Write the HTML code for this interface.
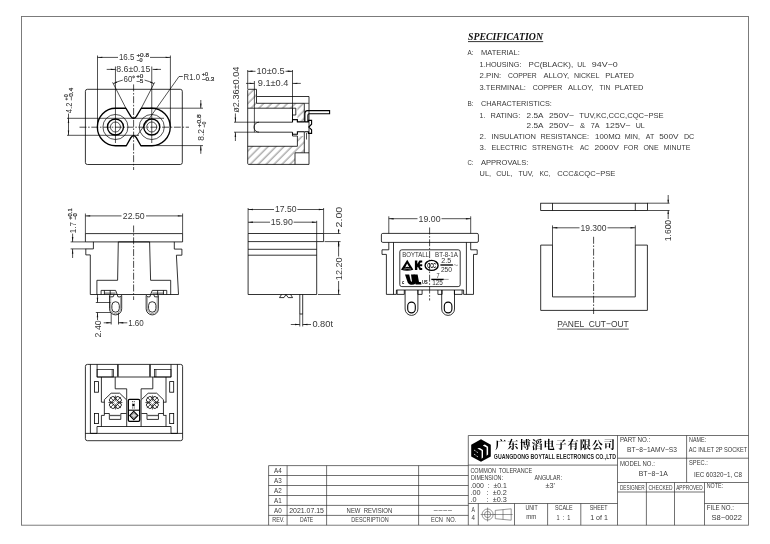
<!DOCTYPE html>
<html><head><meta charset="utf-8"><title>BT-8-1A</title><style>
html,body{margin:0;padding:0;background:#fff}
svg{display:block;will-change:transform}
.t{fill:none;stroke:#000;stroke-width:.68}
.m{fill:none;stroke:#000;stroke-width:.8}
.k{fill:none;stroke:#000;stroke-width:1.35;stroke-linejoin:round}
.b{fill:none;stroke:#6e6e6e;stroke-width:.9}
.g{fill:none;stroke:#333;stroke-width:.7}
.c{fill:none;stroke:#000;stroke-width:.7;stroke-dasharray:7 1.6 1.6 1.6}
.h{fill:none;stroke:#333;stroke-width:.45}
.ar{fill:#111;stroke:none}
.f{fill:#000;stroke:none}
.hf{fill:url(#hp);stroke:none}
.dt{fill:none;stroke:#222;stroke-width:.8;stroke-dasharray:1 .8}
.w{fill:#fff;stroke:none}
.wl{fill:none;stroke:#fff;stroke-width:.8}
text{font-family:"Liberation Sans",sans-serif;fill:#2a2a2a}
.tx{fill:#383838}
.sp{font-family:"Liberation Serif",serif;font-weight:bold;font-style:italic;fill:#111}
.bd{font-weight:bold;fill:#222}
.lb{fill:#333}
.ts{fill:#333;stroke:#333;stroke-width:.22}
.h2{fill:none;stroke:#444;stroke-width:.55}
.gf{fill:#d8d8d8;stroke:#333;stroke-width:.5}
.g2{fill:none;stroke:#555;stroke-width:1.3}
.lb2{fill:#000;font-weight:bold}
.k2{fill:none;stroke:#000;stroke-width:1.35}
.m2{fill:none;stroke:#000;stroke-width:1.1}
.wl2{fill:none;stroke:#fff;stroke-width:.5}
.cn{font-family:"Liberation Serif","Noto Serif CJK SC",serif;font-weight:bold;fill:#000}
</style></head>
<body><svg width="770" height="544" viewBox="0 0 770 544">
<rect x="0" y="0" width="770" height="544" fill="#fff"/>
<rect class="b" x="21.5" y="16.5" width="727" height="508.7"/>
<path class="g" d="M268.6 465.6L468.3 465.6"/>
<path class="g" d="M268.6 475.5L468.3 475.5"/>
<path class="g" d="M268.6 485.5L468.3 485.5"/>
<path class="g" d="M268.6 495.5L468.3 495.5"/>
<path class="g" d="M268.6 505.4L468.3 505.4"/>
<path class="g" d="M268.6 515.4L468.3 515.4"/>
<path class="g" d="M268.6 465.6L268.6 525.2"/>
<path class="g" d="M287.1 465.6L287.1 525.2"/>
<path class="g" d="M326.6 465.6L326.6 525.2"/>
<path class="g" d="M418.6 465.6L418.6 525.2"/>
<text xml:space="preserve" class="tx" x="274.1" y="473.0" font-size="7.2" textLength="7.7" lengthAdjust="spacingAndGlyphs">A4</text>
<text xml:space="preserve" class="tx" x="274.1" y="482.9" font-size="7.2" textLength="7.7" lengthAdjust="spacingAndGlyphs">A3</text>
<text xml:space="preserve" class="tx" x="274.1" y="492.9" font-size="7.2" textLength="7.7" lengthAdjust="spacingAndGlyphs">A2</text>
<text xml:space="preserve" class="tx" x="274.1" y="502.9" font-size="7.2" textLength="7.7" lengthAdjust="spacingAndGlyphs">A1</text>
<text xml:space="preserve" class="tx" x="274.1" y="512.8" font-size="7.2" textLength="7.7" lengthAdjust="spacingAndGlyphs">A0</text>
<text xml:space="preserve" class="tx" x="272.2" y="522.4" font-size="7.2" textLength="12.3" lengthAdjust="spacingAndGlyphs">REV.</text>
<text xml:space="preserve" class="tx" x="289.2" y="513.1" font-size="7.2" textLength="34.8" lengthAdjust="spacingAndGlyphs">2021.07.15</text>
<text xml:space="preserve" class="tx" x="300" y="522.4" font-size="7.2" textLength="13.1" lengthAdjust="spacingAndGlyphs">DATE</text>
<text xml:space="preserve" class="tx" x="346.6" y="513.1" font-size="7.2" textLength="45.6" lengthAdjust="spacingAndGlyphs">NEW  REVISION</text>
<text xml:space="preserve" class="tx" x="351.3" y="522.4" font-size="7.2" textLength="37.3" lengthAdjust="spacingAndGlyphs">DESCRIPTION</text>
<text xml:space="preserve" class="tx" x="433.2" y="512.9" font-size="7.2" textLength="19.0" lengthAdjust="spacingAndGlyphs">−−−−</text>
<text xml:space="preserve" class="tx" x="430.9" y="522.4" font-size="7.2" textLength="25.4" lengthAdjust="spacingAndGlyphs">ECN  NO.</text>
<path class="g" d="M468.3 435.5L748.5 435.5"/>
<path class="g" d="M468.3 435.5L468.3 525.2"/>
<path class="g" d="M617.5 435.5L617.5 525.2"/>
<path class="g" d="M468.3 465.1L617.5 465.1"/>
<path class="g" d="M468.3 503.5L617.5 503.5"/>
<path class="g" d="M478.3 503.5L478.3 525.2"/>
<path class="g" d="M514.5 503.5L514.5 525.2"/>
<path class="g" d="M547.6 503.5L547.6 525.2"/>
<path class="g" d="M580.8 503.5L580.8 525.2"/>
<path class="g" d="M686.6 435.5L686.6 482.5"/>
<path class="g" d="M617.5 458.2L748.5 458.2"/>
<path class="g" d="M617.5 482.5L748.5 482.5"/>
<path class="g" d="M617.5 492L704.5 492"/>
<path class="g" d="M646.4 482.5L646.4 525.2"/>
<path class="g" d="M674.5 482.5L674.5 525.2"/>
<path class="g" d="M704.5 482.5L704.5 525.2"/>
<path class="g" d="M704.5 503.5L748.5 503.5"/>
<path class="f" d="M481 439.2L490.8 444.8L490.8 456.4L481 461.7L471.2 456.4L471.2 444.8Z"/>
<path class="w" d="M477.6 448.2L479.8 447.9L483 450L483 457.6L481.6 458.7L481.6 450.8L477.8 448.8Z"/>
<path class="w" d="M483.1 445.2L484.9 444.6L488.1 446.7L488.1 454.6L486.6 455.8L486.6 447.6L483.1 445.8Z"/>
<path class="wl" d="M474.1 450.1L475.5 450.9"/>
<path class="wl" d="M476.5 451.8L477.9 452.59999999999997"/>
<path class="wl" d="M474.1 454.20000000000005L475.5 455.0"/>
<path class="wl" d="M476.5 456.0L477.9 456.79999999999995"/>
<text xml:space="preserve" class="cn" x="495.3" y="449.3" font-size="11.2" textLength="119.65" lengthAdjust="spacing">广东博滔电子有限公司</text>
<text xml:space="preserve" class="bd" x="493.8" y="459.3" font-size="6.6" textLength="122.2" lengthAdjust="spacingAndGlyphs">GUANGDONG BOYTALL ELECTRONICS CO.,LTD</text>
<text xml:space="preserve" class="tx" x="470.4" y="472.7" font-size="7.0" textLength="61.8" lengthAdjust="spacingAndGlyphs">COMMON  TOLERANCE</text>
<text xml:space="preserve" class="tx" x="471" y="480.3" font-size="7.0" textLength="32" lengthAdjust="spacingAndGlyphs">DIMENSION:</text>
<text xml:space="preserve" class="tx" x="534.4" y="480.3" font-size="7.0" textLength="27.6" lengthAdjust="spacingAndGlyphs">ANGULAR:</text>
<text xml:space="preserve" class="tx" x="470.4" y="488.4" font-size="7.2" textLength="36.4" lengthAdjust="spacingAndGlyphs">.000  :  ±0.1</text>
<text xml:space="preserve" class="tx" x="545.4" y="488.4" font-size="7.2" textLength="9.5" lengthAdjust="spacingAndGlyphs">±3'</text>
<text xml:space="preserve" class="tx" x="470.4" y="495.2" font-size="7.2" textLength="36.4" lengthAdjust="spacingAndGlyphs">.00   :  ±0.2</text>
<text xml:space="preserve" class="tx" x="470.4" y="502" font-size="7.2" textLength="36.4" lengthAdjust="spacingAndGlyphs">.0     :  ±0.3</text>
<text xml:space="preserve" class="tx" x="471.6" y="512.3" font-size="7.2" textLength="3.4" lengthAdjust="spacingAndGlyphs">A</text>
<text xml:space="preserve" class="tx" x="471.6" y="520" font-size="7.2" textLength="3.4" lengthAdjust="spacingAndGlyphs">4</text>
<circle class="h2" cx="487.6" cy="514.5" r="5.5"/>
<circle class="h2" cx="487.6" cy="514.5" r="3.1"/>
<path class="h2" d="M480.6 514.5L494.6 514.5"/>
<path class="h2" d="M487.6 507.5L487.6 521.5"/>
<path class="h2" d="M495.3 510.4L511.2 508.8V520.2L495.3 518.7Z"/>
<path class="h2" d="M503 509.6L503 519.4"/>
<path class="h2" d="M494 514.5L512.6 514.5"/>
<text xml:space="preserve" class="tx" x="525.6" y="509.7" font-size="7.0" textLength="12.1" lengthAdjust="spacingAndGlyphs">UNIT</text>
<text xml:space="preserve" class="tx" x="526.2" y="519.4" font-size="7.0" textLength="10.0" lengthAdjust="spacingAndGlyphs">mm</text>
<text xml:space="preserve" class="tx" x="554.9" y="509.7" font-size="7.0" textLength="17.7" lengthAdjust="spacingAndGlyphs">SCALE</text>
<text xml:space="preserve" class="tx" x="556.5" y="520" font-size="7.0" textLength="13.9" lengthAdjust="spacingAndGlyphs">1  :  1</text>
<text xml:space="preserve" class="tx" x="589.8" y="509.7" font-size="7.0" textLength="17.7" lengthAdjust="spacingAndGlyphs">SHEET</text>
<text xml:space="preserve" class="tx" x="590.2" y="520" font-size="7.0" textLength="17.7" lengthAdjust="spacingAndGlyphs">1 of 1</text>
<text xml:space="preserve" class="tx" x="619.9" y="442.2" font-size="7.0" textLength="30.3" lengthAdjust="spacingAndGlyphs">PART NO.:</text>
<text xml:space="preserve" class="tx" x="627" y="452.4" font-size="7.2" textLength="49.9" lengthAdjust="spacingAndGlyphs">BT−8−1AMV−S3</text>
<text xml:space="preserve" class="tx" x="689" y="442" font-size="7.0" textLength="17" lengthAdjust="spacingAndGlyphs">NAME:</text>
<text xml:space="preserve" class="tx" x="688.8" y="452" font-size="7.2" textLength="58.5" lengthAdjust="spacingAndGlyphs">AC INLET 2P SOCKET</text>
<text xml:space="preserve" class="tx" x="619.9" y="466" font-size="7.0" textLength="34.9" lengthAdjust="spacingAndGlyphs">MODEL NO.:</text>
<text xml:space="preserve" class="tx" x="638.7" y="476" font-size="7.2" textLength="29.1" lengthAdjust="spacingAndGlyphs">BT−8−1A</text>
<text xml:space="preserve" class="tx" x="689" y="464.9" font-size="7.0" textLength="18.8" lengthAdjust="spacingAndGlyphs">SPEC.:</text>
<text xml:space="preserve" class="tx" x="693.9" y="477.4" font-size="7.2" textLength="48.1" lengthAdjust="spacingAndGlyphs">IEC 60320−1, C8</text>
<text xml:space="preserve" class="tx" x="619.9" y="489.8" font-size="7.2" textLength="24.8" lengthAdjust="spacingAndGlyphs">DESIGNER</text>
<text xml:space="preserve" class="tx" x="648.6" y="489.8" font-size="7.2" textLength="23.9" lengthAdjust="spacingAndGlyphs">CHECKED</text>
<text xml:space="preserve" class="tx" x="676.2" y="489.8" font-size="7.2" textLength="26.5" lengthAdjust="spacingAndGlyphs">APPROVED</text>
<text xml:space="preserve" class="tx" x="706.7" y="488.1" font-size="7.0" textLength="16.3" lengthAdjust="spacingAndGlyphs">NOTE:</text>
<text xml:space="preserve" class="tx" x="706.7" y="509.7" font-size="7.0" textLength="27.3" lengthAdjust="spacingAndGlyphs">FILE NO.:</text>
<text xml:space="preserve" class="tx" x="711.5" y="520.1" font-size="7.2" textLength="30.5" lengthAdjust="spacingAndGlyphs">S8−0022</text>
<text class="sp" x="468" y="40" font-size="10.6" textLength="75" lengthAdjust="spacingAndGlyphs">SPECIFICATION</text>
<path class="m" d="M468 41.6L543.2 41.6"/>
<text xml:space="preserve" class="tx" x="467.5" y="55" font-size="7.6" textLength="6.0" lengthAdjust="spacingAndGlyphs">A:</text>
<text xml:space="preserve" class="tx" x="481" y="55" font-size="7.6" textLength="38.8" lengthAdjust="spacingAndGlyphs">MATERIAL:</text>
<text xml:space="preserve" class="tx" x="479.6" y="66.8" font-size="7.6" textLength="41.9" lengthAdjust="spacingAndGlyphs">1.HOUSING:</text>
<text xml:space="preserve" class="tx" x="528.6" y="66.8" font-size="7.6" textLength="44.6" lengthAdjust="spacingAndGlyphs">PC(BLACK),</text>
<text xml:space="preserve" class="tx" x="577.2" y="66.8" font-size="7.6" textLength="8.8" lengthAdjust="spacingAndGlyphs">UL</text>
<text xml:space="preserve" class="tx" x="591.8" y="66.8" font-size="7.6" textLength="26.0" lengthAdjust="spacingAndGlyphs">94V−0</text>
<text xml:space="preserve" class="tx" x="479.6" y="77.6" font-size="7.6" textLength="21.7" lengthAdjust="spacingAndGlyphs">2.PIN:</text>
<text xml:space="preserve" class="tx" x="508" y="77.6" font-size="7.6" textLength="28.7" lengthAdjust="spacingAndGlyphs">COPPER</text>
<text xml:space="preserve" class="tx" x="543.5" y="77.6" font-size="7.6" textLength="25.6" lengthAdjust="spacingAndGlyphs">ALLOY,</text>
<text xml:space="preserve" class="tx" x="573.9" y="77.6" font-size="7.6" textLength="25.6" lengthAdjust="spacingAndGlyphs">NICKEL</text>
<text xml:space="preserve" class="tx" x="605.3" y="77.6" font-size="7.6" textLength="28.7" lengthAdjust="spacingAndGlyphs">PLATED</text>
<text xml:space="preserve" class="tx" x="479.6" y="89.5" font-size="7.6" textLength="46.3" lengthAdjust="spacingAndGlyphs">3.TERMINAL:</text>
<text xml:space="preserve" class="tx" x="532.7" y="89.5" font-size="7.6" textLength="29.7" lengthAdjust="spacingAndGlyphs">COPPER</text>
<text xml:space="preserve" class="tx" x="568.1" y="89.5" font-size="7.6" textLength="25.3" lengthAdjust="spacingAndGlyphs">ALLOY,</text>
<text xml:space="preserve" class="tx" x="599.5" y="89.5" font-size="7.6" textLength="10.8" lengthAdjust="spacingAndGlyphs">TIN</text>
<text xml:space="preserve" class="tx" x="614.7" y="89.5" font-size="7.6" textLength="28.7" lengthAdjust="spacingAndGlyphs">PLATED</text>
<text xml:space="preserve" class="tx" x="467.5" y="106.4" font-size="7.6" textLength="6.0" lengthAdjust="spacingAndGlyphs">B:</text>
<text xml:space="preserve" class="tx" x="481" y="106.4" font-size="7.6" textLength="70.9" lengthAdjust="spacingAndGlyphs">CHARACTERISTICS:</text>
<text xml:space="preserve" class="tx" x="479.6" y="118" font-size="7.6" textLength="5.8" lengthAdjust="spacingAndGlyphs">1.</text>
<text xml:space="preserve" class="tx" x="490.5" y="118" font-size="7.6" textLength="29.7" lengthAdjust="spacingAndGlyphs">RATING:</text>
<text xml:space="preserve" class="tx" x="526.6" y="118" font-size="7.6" textLength="16.9" lengthAdjust="spacingAndGlyphs">2.5A</text>
<text xml:space="preserve" class="tx" x="548.9" y="118" font-size="7.6" textLength="25.0" lengthAdjust="spacingAndGlyphs">250V~</text>
<text xml:space="preserve" class="tx" x="579.3" y="118" font-size="7.6" textLength="84.4" lengthAdjust="spacingAndGlyphs">TUV,KC,CCC,CQC−PSE</text>
<text xml:space="preserve" class="tx" x="526.6" y="127.5" font-size="7.6" textLength="16.9" lengthAdjust="spacingAndGlyphs">2.5A</text>
<text xml:space="preserve" class="tx" x="548.9" y="127.5" font-size="7.6" textLength="25.0" lengthAdjust="spacingAndGlyphs">250V~</text>
<text xml:space="preserve" class="tx" x="579.9" y="127.5" font-size="7.6" textLength="5.1" lengthAdjust="spacingAndGlyphs">&amp;</text>
<text xml:space="preserve" class="tx" x="590.7" y="127.5" font-size="7.6" textLength="8.8" lengthAdjust="spacingAndGlyphs">7A</text>
<text xml:space="preserve" class="tx" x="605.3" y="127.5" font-size="7.6" textLength="25.3" lengthAdjust="spacingAndGlyphs">125V~</text>
<text xml:space="preserve" class="tx" x="635.7" y="127.5" font-size="7.6" textLength="9.1" lengthAdjust="spacingAndGlyphs">UL</text>
<text xml:space="preserve" class="tx" x="479.6" y="138.8" font-size="7.6" textLength="6.5" lengthAdjust="spacingAndGlyphs">2.</text>
<text xml:space="preserve" class="tx" x="491.5" y="138.8" font-size="7.6" textLength="44.5" lengthAdjust="spacingAndGlyphs">INSULATION</text>
<text xml:space="preserve" class="tx" x="540.4" y="138.8" font-size="7.6" textLength="48.6" lengthAdjust="spacingAndGlyphs">RESISTANCE:</text>
<text xml:space="preserve" class="tx" x="595.1" y="138.8" font-size="7.6" textLength="25.4" lengthAdjust="spacingAndGlyphs">100MΩ</text>
<text xml:space="preserve" class="tx" x="624.8" y="138.8" font-size="7.6" textLength="15.2" lengthAdjust="spacingAndGlyphs">MIN,</text>
<text xml:space="preserve" class="tx" x="645.8" y="138.8" font-size="7.6" textLength="8.4" lengthAdjust="spacingAndGlyphs">AT</text>
<text xml:space="preserve" class="tx" x="659.3" y="138.8" font-size="7.6" textLength="19.2" lengthAdjust="spacingAndGlyphs">500V</text>
<text xml:space="preserve" class="tx" x="683.9" y="138.8" font-size="7.6" textLength="10.4" lengthAdjust="spacingAndGlyphs">DC</text>
<text xml:space="preserve" class="tx" x="479.6" y="150.2" font-size="7.6" textLength="6.5" lengthAdjust="spacingAndGlyphs">3.</text>
<text xml:space="preserve" class="tx" x="491.5" y="150.2" font-size="7.6" textLength="35.4" lengthAdjust="spacingAndGlyphs">ELECTRIC</text>
<text xml:space="preserve" class="tx" x="532" y="150.2" font-size="7.6" textLength="41.9" lengthAdjust="spacingAndGlyphs">STRENGTH:</text>
<text xml:space="preserve" class="tx" x="579.9" y="150.2" font-size="7.6" textLength="9.1" lengthAdjust="spacingAndGlyphs">AC</text>
<text xml:space="preserve" class="tx" x="594.5" y="150.2" font-size="7.6" textLength="24.3" lengthAdjust="spacingAndGlyphs">2000V</text>
<text xml:space="preserve" class="tx" x="623.8" y="150.2" font-size="7.6" textLength="14.6" lengthAdjust="spacingAndGlyphs">FOR</text>
<text xml:space="preserve" class="tx" x="643.4" y="150.2" font-size="7.6" textLength="15.2" lengthAdjust="spacingAndGlyphs">ONE</text>
<text xml:space="preserve" class="tx" x="663.7" y="150.2" font-size="7.6" textLength="26.8" lengthAdjust="spacingAndGlyphs">MINUTE</text>
<text xml:space="preserve" class="tx" x="467.5" y="165" font-size="7.6" textLength="6.0" lengthAdjust="spacingAndGlyphs">C:</text>
<text xml:space="preserve" class="tx" x="481" y="165" font-size="7.6" textLength="47.3" lengthAdjust="spacingAndGlyphs">APPROVALS:</text>
<text xml:space="preserve" class="tx" x="479.6" y="176.3" font-size="7.6" textLength="11.5" lengthAdjust="spacingAndGlyphs">UL,</text>
<text xml:space="preserve" class="tx" x="496.2" y="176.3" font-size="7.6" textLength="16.2" lengthAdjust="spacingAndGlyphs">CUL,</text>
<text xml:space="preserve" class="tx" x="518.5" y="176.3" font-size="7.6" textLength="15.2" lengthAdjust="spacingAndGlyphs">TUV,</text>
<text xml:space="preserve" class="tx" x="539.4" y="176.3" font-size="7.6" textLength="11.2" lengthAdjust="spacingAndGlyphs">KC,</text>
<text xml:space="preserve" class="tx" x="557.3" y="176.3" font-size="7.6" textLength="58.1" lengthAdjust="spacingAndGlyphs">CCC&amp;CQC−PSE</text>
<rect class="m" x="85.4" y="89.3" width="96.9" height="75.2" rx="2"/>
<path class="c" d="M133.6 84.4L133.6 170"/>
<path class="c" d="M79.5 127.2L189 127.2"/>
<path class="k" d="M125.9 108.25H115.45A18.1 18.75 0 0 0 115.45 145.75H126.3L130.9 137.7Q133.6 133.6 136.3 137.7L140.9 145.75H151.75A18.5 18.75 0 0 0 151.75 108.25H141.3L136.4 116.3Q133.6 120.4 130.8 116.3Z"/>
<circle class="t" cx="115.45" cy="127.0" r="12.55"/>
<circle class="k" cx="115.45" cy="127.0" r="8.0"/>
<circle class="t" cx="115.45" cy="127.0" r="5.0"/>
<circle class="t" cx="151.75" cy="127.0" r="12.55"/>
<circle class="k" cx="151.75" cy="127.0" r="8.0"/>
<circle class="t" cx="151.75" cy="127.0" r="5.0"/>
<path class="t" d="M97.5 55.5L97.5 127"/>
<path class="t" d="M170.4 55.5L170.4 127"/>
<path class="t" d="M97.5 57.4L118 57.4"/>
<path class="t" d="M150 57.4L170.4 57.4"/>
<path class="ar" d="M97.50 57.40L102.30 56.68L102.30 58.12Z"/>
<path class="ar" d="M170.40 57.40L165.60 58.12L165.60 56.68Z"/>
<text xml:space="preserve" class="tx" x="118.9" y="60.3" font-size="8.5" textLength="15.5" lengthAdjust="spacingAndGlyphs">16.5</text>
<text xml:space="preserve" class="ts" x="136.4" y="56.7" font-size="5.2" textLength="12.6" lengthAdjust="spacingAndGlyphs">+0.8</text>
<text xml:space="preserve" class="ts" x="136.4" y="61.7" font-size="5.2" textLength="6.2" lengthAdjust="spacingAndGlyphs">−0</text>
<path class="t" d="M115.45 66.5L115.45 143"/>
<path class="t" d="M151.75 66.5L151.75 143"/>
<path class="t" d="M106.7 69.4L115.6 69.4"/>
<path class="t" d="M152.6 69.4L161 69.4"/>
<path class="ar" d="M115.60 69.40L110.80 70.12L110.80 68.68Z"/>
<path class="ar" d="M152.60 69.40L157.40 68.68L157.40 70.12Z"/>
<text xml:space="preserve" class="tx" x="116.2" y="72.2" font-size="8.5" textLength="34.1" lengthAdjust="spacingAndGlyphs">8.6±0.15</text>
<path class="t" d="M113.4 83.6A43.9 43.9 0 0 1 122.8 80.1M144.6 80.1A43.9 43.9 0 0 1 153.9 83.6"/>
<path class="ar" d="M113.40 83.60L116.65 81.51L117.19 82.84Z"/>
<path class="ar" d="M153.90 83.60L150.11 82.84L150.65 81.51Z"/>
<path class="t" d="M112.6 82.3L125.9 108.2"/>
<path class="t" d="M154.7 82.3L141.3 108.2"/>
<text xml:space="preserve" class="tx" x="123.6" y="81.8" font-size="8.5" textLength="8.8" lengthAdjust="spacingAndGlyphs">60</text>
<circle class="t" cx="133.6" cy="76.9" r="0.9"/>
<text xml:space="preserve" class="ts" x="136.2" y="78.2" font-size="5.2" textLength="7.2" lengthAdjust="spacingAndGlyphs">+0</text>
<text xml:space="preserve" class="ts" x="136.2" y="83.4" font-size="5.2" textLength="7.2" lengthAdjust="spacingAndGlyphs">−5</text>
<path class="t" d="M182.8 76.5H179L137 135.8"/>
<text xml:space="preserve" class="tx" x="183.6" y="79.6" font-size="8.5" textLength="16.4" lengthAdjust="spacingAndGlyphs">R1.0</text>
<text xml:space="preserve" class="ts" x="201.8" y="76" font-size="5.2" textLength="6.2" lengthAdjust="spacingAndGlyphs">+0</text>
<text xml:space="preserve" class="ts" x="201.8" y="81.2" font-size="5.2" textLength="12.6" lengthAdjust="spacingAndGlyphs">−0.3</text>
<path class="t" d="M67 118.3L164 118.3"/>
<path class="t" d="M67 135.3L139 135.3"/>
<path class="t" d="M68.5 113.6L68.5 135.3"/>
<path class="ar" d="M68.50 118.30L69.22 123.10L67.78 123.10Z"/>
<path class="ar" d="M68.50 135.30L67.78 130.50L69.22 130.50Z"/>
<text xml:space="preserve" class="tx" x="0" y="0" font-size="8.5" textLength="10.6" lengthAdjust="spacingAndGlyphs" transform="translate(72 113.2) rotate(-90)">4.2</text>
<text xml:space="preserve" class="ts" x="0" y="0" font-size="5.4" textLength="6.1" lengthAdjust="spacingAndGlyphs" transform="translate(67.8 100.4) rotate(-90)">+0</text>
<text xml:space="preserve" class="ts" x="0" y="0" font-size="5.4" textLength="12.6" lengthAdjust="spacingAndGlyphs" transform="translate(73.4 100.4) rotate(-90)">−0.4</text>
<path class="t" d="M150 108.2L203 108.2"/>
<path class="t" d="M151.5 145.6L203 145.6"/>
<path class="t" d="M200.8 100L200.8 108.2"/>
<path class="t" d="M200.8 145.6L200.8 153.8"/>
<path class="ar" d="M200.80 108.20L200.08 103.40L201.52 103.40Z"/>
<path class="ar" d="M200.80 145.60L201.52 150.40L200.08 150.40Z"/>
<text xml:space="preserve" class="tx" x="0" y="0" font-size="8.5" textLength="11.8" lengthAdjust="spacingAndGlyphs" transform="translate(204 140.8) rotate(-90)">8.2</text>
<text xml:space="preserve" class="ts" x="0" y="0" font-size="5.4" textLength="13.0" lengthAdjust="spacingAndGlyphs" transform="translate(201.1 127.4) rotate(-90)">+0.8</text>
<text xml:space="preserve" class="ts" x="0" y="0" font-size="5.4" textLength="5.8" lengthAdjust="spacingAndGlyphs" transform="translate(205.9 127.4) rotate(-90)">−0</text>
<defs><pattern id="hp" width="5.6" height="5.6" patternUnits="userSpaceOnUse" patternTransform="rotate(-45)"><path d="M0 1.97H5.6" stroke="#222" stroke-width=".55"/></pattern></defs>
<path class="hf" d="M247.7 89.3H256.5V103.3H304.3V121.9H297.4V108.2H247.7Z"/>
<path class="hf" d="M247.7 146.3H297.4V136H304.3V152.8H295V164.4H247.7Z"/>
<path class="m" d="M248.7 89.3H256.5V96.5H309.0V164.4H248.7Q247.7 164.4 247.7 163.4V90.3Q247.7 89.3 248.7 89.3Z"/>
<path class="m" d="M256.5 96.5L256.5 103.3"/>
<path class="m" d="M256.5 103.3L304.3 103.3"/>
<path class="m" d="M247.7 108.2L295.8 108.2"/>
<path class="m" d="M304.3 103.3L304.3 121.9"/>
<path class="m" d="M292.5 108.2V119.5H297.4V121.9"/>
<path class="m" d="M295.8 108.2V115H292.5"/>
<path class="t" d="M304.3 103.3L308.9 103.3"/>
<path class="m" d="M247.7 146.3L297.4 146.3"/>
<path class="m" d="M297.4 146.3V136H292.5V134"/>
<path class="m" d="M304.3 132L304.3 152.8"/>
<path class="m" d="M295 164.4V152.8H309.0"/>
<path class="t" d="M306.5 133L306.5 139.5"/>
<path class="m" d="M292.5 122.2H259A5 5 0 0 0 259 132.2H292.5"/>
<path class="m2" d="M292.5 122.2V119.7H297.4V121.9H304.5"/>
<path class="m2" d="M292.5 132.2V134.3H297.4V131.8H304.5"/>
<path class="m2" d="M304.5 121.9H308.4V120.4H311.6V124.2L308.8 127.1L311.6 129.8V133.4H308.4V131.8H304.5"/>
<path class="m2" d="M304.9 121.9V113.4Q304.9 110.6 307.7 110.6H329.6V113.8H309.2Q307.9 113.8 307.9 115.2V121.9"/>
<path class="t" d="M247.7 70L247.7 89.3"/>
<path class="t" d="M292.5 70L292.5 120"/>
<path class="t" d="M247.7 71.3L255.5 71.3"/>
<path class="t" d="M285.5 71.3L292.5 71.3"/>
<path class="ar" d="M247.70 71.30L252.50 70.58L252.50 72.02Z"/>
<path class="ar" d="M292.50 71.30L287.70 72.02L287.70 70.58Z"/>
<text xml:space="preserve" class="tx" x="256.4" y="74.2" font-size="8.5" textLength="28.2" lengthAdjust="spacingAndGlyphs">10±0.5</text>
<path class="t" d="M254.4 81L254.4 132.2"/>
<path class="t" d="M246 83.4L254.4 83.4"/>
<path class="t" d="M292.5 83.4L300.8 83.4"/>
<path class="ar" d="M254.40 83.40L249.60 84.12L249.60 82.68Z"/>
<path class="ar" d="M292.50 83.40L297.30 82.68L297.30 84.12Z"/>
<text xml:space="preserve" class="tx" x="257.8" y="86.4" font-size="8.5" textLength="30.6" lengthAdjust="spacingAndGlyphs">9.1±0.4</text>
<path class="t" d="M234 122.2L259 122.2"/>
<path class="t" d="M234 132.2L259 132.2"/>
<path class="t" d="M235.4 113.4L235.4 122.2"/>
<path class="t" d="M235.4 132.2L235.4 141"/>
<path class="ar" d="M235.40 122.20L234.68 117.40L236.12 117.40Z"/>
<path class="ar" d="M235.40 132.20L236.12 137.00L234.68 137.00Z"/>
<text xml:space="preserve" class="tx" x="0" y="0" font-size="8.5" textLength="46.2" lengthAdjust="spacingAndGlyphs" transform="translate(239.2 112.8) rotate(-90)">ø2.36±0.04</text>
<path class="c" d="M133.6 225.5L133.6 300"/>
<path class="m" d="M85.4 233.6H182.6V241.9H85.4Z"/>
<path class="m" d="M93.4 241.9V248.9H85.8V254.9H90.3V294.5H178.5L176.4 255.2H181.9V249.1H174.3V241.9"/>
<path class="m" d="M96.9 294.5V280.3H117.6L118.3 241.9H149.6L150.6 280.3H170.7V294.5"/>
<path class="m" d="M109.5 295.4V308.8A6.1 6.1 0 0 0 121.69999999999999 308.8V295.4"/>
<path class="h" d="M110.69999999999999 297V308.8A4.9 4.9 0 0 0 120.5 308.8V297"/>
<path class="m" d="M111.89999999999999 305.4A3.7 3.7 0 0 1 119.3 305.4V308.5A3.7 3.7 0 0 1 111.89999999999999 308.5Z"/>
<path class="m" d="M101.1 294.5V290.4H115.6L117.2 294.5"/>
<path class="m" d="M104.4 290.4L104.4 294.5"/>
<path class="m" d="M110.2 290.4L110.2 294.5"/>
<path class="t" d="M104.4 293.1L115.6 293.1"/>
<path class="m" d="M109.5 295.4L111.1 294.5M114.1 294.5L113.2 296.8H109.6M117.2 294.5L117.9 296.8Q120.0 297.8 121.7 295.4"/>
<path class="m" d="M146.15 295.4V308.8A6.1 6.1 0 0 0 158.35 308.8V295.4"/>
<path class="h" d="M147.35 297V308.8A4.9 4.9 0 0 0 157.15 308.8V297"/>
<path class="m" d="M148.55 305.4A3.7 3.7 0 0 1 155.95 305.4V308.5A3.7 3.7 0 0 1 148.55 308.5Z"/>
<path class="m" d="M166.75 294.5V290.4H152.25L150.65 294.5"/>
<path class="m" d="M163.45 290.4L163.45 294.5"/>
<path class="m" d="M157.65 290.4L157.65 294.5"/>
<path class="t" d="M163.45 293.1L152.25 293.1"/>
<path class="m" d="M158.35 295.4L156.75 294.5M153.75 294.5L154.65 296.8H158.25M150.65 294.5L149.95 296.8Q147.85 297.8 146.15 295.4"/>
<path class="t" d="M85.4 213.5L85.4 233.6"/>
<path class="t" d="M182.6 213.5L182.6 233.6"/>
<path class="t" d="M85.4 215.9L121.5 215.9"/>
<path class="t" d="M146 215.9L182.6 215.9"/>
<path class="ar" d="M85.40 215.90L90.20 215.18L90.20 216.62Z"/>
<path class="ar" d="M182.60 215.90L177.80 216.62L177.80 215.18Z"/>
<text xml:space="preserve" class="tx" x="122.8" y="218.8" font-size="8.5" textLength="21.9" lengthAdjust="spacingAndGlyphs">22.50</text>
<path class="t" d="M70.6 241.9L85.4 241.9"/>
<path class="t" d="M70.6 248.9L86 248.9"/>
<path class="t" d="M72.6 233.6L72.6 241.9"/>
<path class="t" d="M72.6 248.9L72.6 258"/>
<path class="ar" d="M72.60 241.90L71.88 237.10L73.32 237.10Z"/>
<path class="ar" d="M72.60 248.90L73.32 253.70L71.88 253.70Z"/>
<text xml:space="preserve" class="tx" x="0" y="0" font-size="8.5" textLength="11.2" lengthAdjust="spacingAndGlyphs" transform="translate(75.5 233.2) rotate(-90)">1.7</text>
<text xml:space="preserve" class="ts" x="0" y="0" font-size="5.4" textLength="11.4" lengthAdjust="spacingAndGlyphs" transform="translate(71.7 219.8) rotate(-90)">+0.1</text>
<text xml:space="preserve" class="ts" x="0" y="0" font-size="5.4" textLength="6.6" lengthAdjust="spacingAndGlyphs" transform="translate(76.9 219.8) rotate(-90)">−0</text>
<path class="t" d="M95.8 302.5L110.5 302.5"/>
<path class="t" d="M95.8 312.5L111 312.5"/>
<path class="t" d="M97.5 294.5L97.5 302.5"/>
<path class="t" d="M97.5 312.5L97.5 320"/>
<path class="ar" d="M97.50 302.50L96.78 297.70L98.22 297.70Z"/>
<path class="ar" d="M97.50 312.50L98.22 317.30L96.78 317.30Z"/>
<text xml:space="preserve" class="tx" x="0" y="0" font-size="8.5" textLength="17.0" lengthAdjust="spacingAndGlyphs" transform="translate(100.9 337.4) rotate(-90)">2.40</text>
<path class="t" d="M111.2 313L111.2 324.5"/>
<path class="t" d="M118.5 313L118.5 324.5"/>
<path class="t" d="M103.7 322.8L111.2 322.8"/>
<path class="t" d="M118.5 322.8L127.3 322.8"/>
<path class="ar" d="M111.20 322.80L106.40 323.52L106.40 322.08Z"/>
<path class="ar" d="M118.50 322.80L123.30 322.08L123.30 323.52Z"/>
<text xml:space="preserve" class="tx" x="128.2" y="325.7" font-size="8.5" textLength="15.6" lengthAdjust="spacingAndGlyphs">1.60</text>
<path class="m" d="M248.1 233.5H323.6V241.6H316.7V294.5H248.1Z"/>
<path class="m" d="M248.1 241.6L316.7 241.6"/>
<path class="m" d="M248.1 249.3L316.7 249.3"/>
<path class="m" d="M248.1 255.2L316.7 255.2"/>
<path class="m" d="M299.8 294.5V314H302.7V294.5"/>
<path class="m" d="M279.5 297.6L281.5 294.5M279.5 297.6H284L286 294.5M286 294.5L288.2 297.6H292.6L290.6 294.5"/>
<path class="t" d="M248.1 208L248.1 233.5"/>
<path class="t" d="M323.6 208L323.6 233.5"/>
<path class="t" d="M248.1 209.5L274 209.5"/>
<path class="t" d="M297.4 209.5L323.6 209.5"/>
<path class="ar" d="M248.10 209.50L252.90 208.78L252.90 210.22Z"/>
<path class="ar" d="M323.60 209.50L318.80 210.22L318.80 208.78Z"/>
<text xml:space="preserve" class="tx" x="275" y="212.4" font-size="8.5" textLength="21.6" lengthAdjust="spacingAndGlyphs">17.50</text>
<path class="t" d="M316.7 220.8L316.7 241.6"/>
<path class="t" d="M248.1 222.2L270 222.2"/>
<path class="t" d="M293.6 222.2L316.7 222.2"/>
<path class="ar" d="M248.10 222.20L252.90 221.48L252.90 222.92Z"/>
<path class="ar" d="M316.70 222.20L311.90 222.92L311.90 221.48Z"/>
<text xml:space="preserve" class="tx" x="270.8" y="225.1" font-size="8.5" textLength="22.0" lengthAdjust="spacingAndGlyphs">15.90</text>
<path class="t" d="M323.6 233.5L340.6 233.5"/>
<path class="t" d="M324.6 241.6L340.6 241.6"/>
<path class="t" d="M338.6 229L338.6 233.5"/>
<path class="t" d="M338.6 241.6L338.6 246"/>
<path class="ar" d="M338.60 233.50L337.88 230.10L339.32 230.10Z"/>
<path class="ar" d="M338.60 241.60L339.32 245.00L337.88 245.00Z"/>
<text xml:space="preserve" class="tx" x="0" y="0" font-size="8.5" textLength="20.8" lengthAdjust="spacingAndGlyphs" transform="translate(341.8 227.5) rotate(-90)">2.00</text>
<path class="t" d="M318 294.5L340.6 294.5"/>
<path class="t" d="M338.6 241.6L338.6 256.5"/>
<path class="t" d="M338.6 281L338.6 294.5"/>
<path class="ar" d="M338.60 241.60L339.32 246.40L337.88 246.40Z"/>
<path class="ar" d="M338.60 294.50L337.88 289.70L339.32 289.70Z"/>
<text xml:space="preserve" class="tx" x="0" y="0" font-size="8.5" textLength="22.9" lengthAdjust="spacingAndGlyphs" transform="translate(341.8 280.2) rotate(-90)">12.20</text>
<path class="t" d="M299.8 314L299.8 326.5"/>
<path class="t" d="M302.7 314L302.7 326.5"/>
<path class="t" d="M290.8 324.5L299.8 324.5"/>
<path class="t" d="M302.7 324.5L311 324.5"/>
<path class="ar" d="M299.80 324.50L295.00 325.22L295.00 323.78Z"/>
<path class="ar" d="M302.70 324.50L307.50 323.78L307.50 325.22Z"/>
<text xml:space="preserve" class="tx" x="312.4" y="327.4" font-size="8.5" textLength="20.6" lengthAdjust="spacingAndGlyphs">0.80t</text>
<path class="c" d="M429.6 227.5L429.6 300.5"/>
<rect class="m" x="381.4" y="233.4" width="97" height="9" rx="1.4"/>
<path class="m" d="M388.8 242.4V249.8H382V254.4H386.4V294.4H396.4V290H463.6V294.4H473.5V254.4H477.2V249.8H470.7V242.4"/>
<path class="m" d="M393.5 242.4L393.5 294.4"/>
<path class="m" d="M466.4 242.4L466.4 294.4"/>
<rect class="m" x="399.8" y="249.8" width="60.4" height="36.8" rx="2"/>
<path class="m" d="M405.1 290V309A6.4 6.4 0 0 0 417.9 309V290"/>
<path class="m2" d="M407.7 305.9A3.8 3.8 0 0 1 415.3 305.9V309.1A3.8 3.8 0 0 1 407.7 309.1Z"/>
<path class="m" d="M441.70000000000005 290V309A6.4 6.4 0 0 0 454.5 309V290"/>
<path class="m2" d="M444.3 305.9A3.8 3.8 0 0 1 451.90000000000003 305.9V309.1A3.8 3.8 0 0 1 444.3 309.1Z"/>
<path class="m" d="M397.1 290V294.4H404.3V290"/>
<path class="m" d="M417.9 290V294.4H422.1V290"/>
<path class="m" d="M437.9 290V294.4H442.1V290"/>
<path class="m" d="M454.4 290V294.4H462.1V290"/>
<path class="t" d="M388.8 216.3L388.8 233.4"/>
<path class="t" d="M470.7 216.3L470.7 233.4"/>
<path class="t" d="M388.8 218.7L417.5 218.7"/>
<path class="t" d="M441.5 218.7L470.7 218.7"/>
<path class="ar" d="M388.80 218.70L393.60 217.98L393.60 219.42Z"/>
<path class="ar" d="M470.70 218.70L465.90 219.42L465.90 217.98Z"/>
<text xml:space="preserve" class="tx" x="418.6" y="221.6" font-size="8.5" textLength="22.0" lengthAdjust="spacingAndGlyphs">19.00</text>
<text xml:space="preserve" class="lb" x="402.2" y="256.8" font-size="7" textLength="26.7" lengthAdjust="spacingAndGlyphs">BOYTALL</text>
<text xml:space="preserve" class="lb" x="435" y="256.8" font-size="7" textLength="22.9" lengthAdjust="spacingAndGlyphs">BT-8-1A</text>
<path class="f" d="M407.2 259.8L413.4 269.8Q407 271.6 401 269.8Z"/>
<path class="w" d="M407.1 263.6L409.3 267.2Q407.2 266.4 405.2 267.4Z"/>
<path class="wl2" d="M403.6 269.1Q407.3 267.9 411 269.1"/>
<path class="f" d="M414.9 260.5H417.3V264L419.4 260.5H422.2V262.4H420.6L419.6 264.2H422.2V266.2H419.8L420.8 268H422.2V270H419.6L417.9 266.8L417.3 267.4V270H414.9Z"/>
<ellipse class="k2" cx="431.6" cy="265.4" rx="6.5" ry="5"/>
<text xml:space="preserve" class="lb2" x="427.3" y="267.7" font-size="6.6" textLength="8.7" lengthAdjust="spacingAndGlyphs">CCC</text>
<text xml:space="preserve" class="lb" x="441.3" y="263.4" font-size="7" textLength="9.9" lengthAdjust="spacingAndGlyphs">2.5</text>
<path class="k" d="M440.4 265L452.9 265"/>
<text xml:space="preserve" class="lb" x="440.9" y="271.8" font-size="7" textLength="11.1" lengthAdjust="spacingAndGlyphs">250</text>
<path class="h" d="M453.6 265.3Q454.7 264 455.8 265.1Q456.9 266.2 458 264.9"/>
<path class="f" d="M405 274.4H409.2L410.6 280.6Q411 282 412 281.6L411 274.4H414.6L416 283.2Q413 285.6 409.4 284.2Q407.6 283.4 407.2 281Z"/>
<path class="f" d="M413.6 274.4H417.6L419 282H421L421.4 284.6H415.6Z"/>
<text xml:space="preserve" class="lb2" x="402.1" y="283.9" font-size="5.6" textLength="2.3" lengthAdjust="spacingAndGlyphs">c</text>
<text xml:space="preserve" class="lb2" x="422.1" y="283.9" font-size="5" textLength="5.5" lengthAdjust="spacingAndGlyphs">US</text>
<text xml:space="preserve" class="lb" x="436.6" y="277.9" font-size="6.6" textLength="3.1" lengthAdjust="spacingAndGlyphs">7</text>
<path class="k" d="M431.3 279.4L443.7 279.4"/>
<path class="h" d="M443.7 279.4L448.7 279.4"/>
<text xml:space="preserve" class="lb" x="432.2" y="285.1" font-size="6.6" textLength="10.7" lengthAdjust="spacingAndGlyphs">125</text>
<rect class="m" x="540.7" y="203.2" width="106.7" height="7.3"/>
<path class="m" d="M552.5 203.2L552.5 210.5"/>
<path class="m" d="M635.3 203.2L635.3 210.5"/>
<path class="m" d="M540.7 245.1H552.5V296.9H635.3V245.1H647.4V310.4H540.7Z"/>
<path class="c" d="M593.6 236.8L593.6 314"/>
<path class="t" d="M552.5 225.4L552.5 245.1"/>
<path class="t" d="M635.3 225.4L635.3 245.1"/>
<path class="t" d="M552.5 227.8L579.5 227.8"/>
<path class="t" d="M607.5 227.8L635.3 227.8"/>
<path class="ar" d="M552.50 227.80L557.30 227.08L557.30 228.52Z"/>
<path class="ar" d="M635.30 227.80L630.50 228.52L630.50 227.08Z"/>
<text xml:space="preserve" class="tx" x="580.4" y="230.7" font-size="8.5" textLength="26.2" lengthAdjust="spacingAndGlyphs">19.300</text>
<text xml:space="preserve" class="tx" x="557.2" y="327.2" font-size="9.1" textLength="71.6" lengthAdjust="spacingAndGlyphs">PANEL  CUT−OUT</text>
<path class="t" d="M557.2 329.1L628.8 329.1"/>
<path class="t" d="M647.4 203.2L669.5 203.2"/>
<path class="t" d="M647.4 210.5L669.5 210.5"/>
<path class="t" d="M668.2 195L668.2 203.2"/>
<path class="t" d="M668.2 210.5L668.2 219"/>
<path class="ar" d="M668.20 203.20L667.48 199.80L668.92 199.80Z"/>
<path class="ar" d="M668.20 210.50L668.92 213.90L667.48 213.90Z"/>
<text xml:space="preserve" class="tx" x="0" y="0" font-size="8.5" textLength="21.3" lengthAdjust="spacingAndGlyphs" transform="translate(671.4 241.2) rotate(-90)">1.600</text>
<rect class="m" x="85.4" y="364.4" width="97.2" height="76.3" rx="2"/>
<path class="m" d="M85.4 433.4L182.6 433.4"/>
<path class="m" d="M90.4 364.4L90.4 433.4"/>
<path class="m" d="M177.4 364.4L177.4 433.4"/>
<path class="m" d="M97.1 364.4L97.1 377"/>
<path class="m" d="M171 364.4L171 377"/>
<path class="m" d="M97.1 377L171 377"/>
<rect class="t" x="97.1" y="369.4" width="16.5" height="7.6"/>
<rect class="t" x="154.5" y="369.4" width="16.5" height="7.6"/>
<path class="t" d="M112.2 369.4L112.2 377"/>
<path class="t" d="M155.9 369.4L155.9 377"/>
<path class="k" d="M117.9 364.4L117.9 376.8"/>
<path class="k" d="M150 364.4L150 376.8"/>
<path class="m" d="M101.4 377V402.2"/>
<path class="m" d="M166.0 377V402.2"/>
<path class="m" d="M115.2 377V388.8H126.7V426.5"/>
<path class="m" d="M152.8 377V388.8H141.1V426.5"/>
<path class="m" d="M90.4 433.4H97V426.5H171V433.4H177.4"/>
<path class="m" d="M101.4 426.5V415.4"/>
<path class="m" d="M166.0 426.5V415.4"/>
<rect class="m" x="94.4" y="381.6" width="4" height="10.6"/>
<rect class="m" x="94.4" y="413.4" width="4" height="10.2"/>
<rect class="m" x="169.7" y="381.6" width="4" height="10.6"/>
<rect class="m" x="169.7" y="413.4" width="4" height="10.2"/>
<path class="m" d="M101.4 402.2H104.35M101.4 415.4H104.35V399.7L111.1 393.2H119.65L126.2 399.5"/>
<path class="m" d="M104.35 413.5H109.35V419.4H120.8V413.5H126.3"/>
<path class="g2" d="M109.8 415.5L120.4 415.5"/>
<ellipse class="m" cx="112.1" cy="399.2" rx="3.2" ry="2.0" transform="rotate(-45 112.1 399.2)"/>
<ellipse class="m" cx="118.7" cy="399.2" rx="3.2" ry="2.0" transform="rotate(45 118.7 399.2)"/>
<ellipse class="m" cx="112.1" cy="405.8" rx="3.2" ry="2.0" transform="rotate(45 112.1 405.8)"/>
<ellipse class="m" cx="118.7" cy="405.8" rx="3.2" ry="2.0" transform="rotate(-45 118.7 405.8)"/>
<path class="t" d="M109.80000000000001 396.9L114.4 401.5M116.4 403.5L121.0 408.1M121.0 396.9L116.4 401.5M114.4 403.5L109.80000000000001 408.1"/>
<path class="t" d="M115.4 395.5V400.9M115.4 404.1V409.5M108.4 402.5H113.80000000000001M117.0 402.5H122.4"/>
<path class="m" d="M166.4 402.2H163.45M166.4 415.4H163.45V399.7L156.7 393.2H148.15L141.6 399.5"/>
<path class="m" d="M163.45 413.5H158.45V419.4H147.0V413.5H141.5"/>
<path class="g2" d="M158.0 415.5L147.4 415.5"/>
<ellipse class="m" cx="149.1" cy="399.2" rx="3.2" ry="2.0" transform="rotate(-45 149.1 399.2)"/>
<ellipse class="m" cx="155.7" cy="399.2" rx="3.2" ry="2.0" transform="rotate(45 155.7 399.2)"/>
<ellipse class="m" cx="149.1" cy="405.8" rx="3.2" ry="2.0" transform="rotate(45 149.1 405.8)"/>
<ellipse class="m" cx="155.7" cy="405.8" rx="3.2" ry="2.0" transform="rotate(-45 155.7 405.8)"/>
<path class="t" d="M146.8 396.9L151.4 401.5M153.4 403.5L158.0 408.1M158.0 396.9L153.4 401.5M151.4 403.5L146.8 408.1"/>
<path class="t" d="M152.4 395.5V400.9M152.4 404.1V409.5M145.4 402.5H150.8M154.0 402.5H159.4"/>
<rect class="k" x="128.3" y="399.3" width="11.4" height="22" rx="1.3"/>
<path class="m2" d="M128.3 410.2L139.7 410.2"/>
<path class="m2" d="M133.8 411.4L137.9 415.5L133.8 419.6L129.7 415.5Z"/>
<path class="gf" d="M133.8 413L136.3 415.5L133.8 418L131.3 415.5Z"/>
<path class="dt" d="M132.6 401V403.4M134.3 401V403.4M132.6 406.6V408.9M134.3 406.6V408.9"/>
<rect class="f" x="132.3" y="403.9" width="2.3" height="2.2"/>
</svg></body></html>
